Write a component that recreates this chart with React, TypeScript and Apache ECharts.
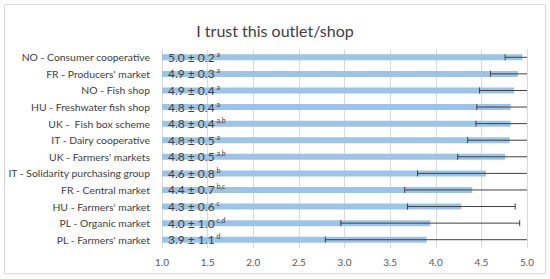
import React, { useEffect, useRef } from "react";
import * as echarts from "echarts";

const categories = [
  "NO - Consumer cooperative",
  "FR - Producers' market",
  "NO - Fish shop",
  "HU - Freshwater fish shop",
  "UK -  Fish box scheme",
  "IT - Dairy cooperative",
  "UK - Farmers' markets",
  "IT - Solidarity purchasing group",
  "FR - Central market",
  "HU - Farmers' market",
  "PL - Organic market",
  "PL - Farmers' market",
];
const means = [4.95, 4.9, 4.86, 4.82, 4.82, 4.81, 4.76, 4.55, 4.4, 4.28, 3.94, 3.9];
const sds = [0.19, 0.3, 0.38, 0.37, 0.38, 0.46, 0.52, 0.75, 0.74, 0.59, 0.98, 1.11];
const valueTexts = [
  "5.0 ± 0.2", "4.9 ± 0.3", "4.9 ± 0.4", "4.8 ± 0.4", "4.8 ± 0.4", "4.8 ± 0.5",
  "4.8 ± 0.5", "4.6 ± 0.8", "4.4 ± 0.7", "4.3 ± 0.6", "4.0 ± 1.0", "3.9 ± 1.1",
];
const letters = ["a", "a", "a", "a", "a,b", "a", "a,b", "b", "b,c", "c", "c,d", "d"];
const xTicks = [1.0, 1.5, 2.0, 2.5, 3.0, 3.5, 4.0, 4.5, 5.0];

const FONT = "Lato";

export default function App() {
  const ref = useRef<HTMLDivElement>(null);
  useEffect(() => {
    document.body.style.margin = "0";
    const chart = echarts.init(ref.current!, null, { renderer: "svg" });
    chart.setOption({
      animation: false,
      textStyle: { fontFamily: FONT },
      title: {
        text: "I trust this outlet/shop",
        left: "center",
        top: 17,
        textStyle: { fontFamily: FONT, fontSize: 16, fontWeight: "normal", color: "#404040" },
      },
      graphic: [
        {
          type: "rect",
          shape: { x: 4.5, y: 4.5, width: 541, height: 269 },
          style: { fill: "none", stroke: "#d9d9d9", lineWidth: 1 },
          silent: true,
        },
      ],
      grid: { left: 162, right: 23, top: 49, bottom: 31, containLabel: false },
      xAxis: {
        type: "value",
        min: xTicks[0],
        max: xTicks[xTicks.length - 1],
        interval: 0.5,
        axisLine: { show: false },
        axisTick: { show: false },
        axisLabel: {
          formatter: (v: number) => v.toFixed(1),
          color: "#595959",
          fontSize: 10,
          fontFamily: FONT,
          margin: 9,
        },
        splitLine: { lineStyle: { color: "#d9d9d9", width: 1 } },
      },
      yAxis: {
        type: "category",
        data: categories,
        inverse: true,
        axisLine: { show: false },
        axisTick: { show: false },
        axisLabel: { color: "#404040", fontSize: 10.4, fontFamily: FONT, margin: 12 },
      },
      series: [
        {
          type: "bar",
          data: means,
          barWidth: 6,
          itemStyle: { color: "#9dc3e6" },
          label: {
            show: true,
            position: "insideLeft",
            distance: 6,
            formatter: (p: any) => `{v|${valueTexts[p.dataIndex]}}{s|${letters[p.dataIndex]}}`,
            rich: {
              v: { fontSize: 12, color: "#404040", fontFamily: FONT, lineHeight: 14 },
              s: { fontSize: 7, color: "#404040", fontFamily: FONT, verticalAlign: "top", lineHeight: 14, padding: [0, 0, 4, 2] },
            },
          },
          z: 2,
        },
        {
          type: "custom",
          data: means.map((m, i) => [m, i, sds[i]]),
          encode: { x: 0, y: 1 },
          clip: true,
          z: 3,
          renderItem: (params: any, api: any) => {
            const m = api.value(0);
            const idx = api.value(1);
            const sd = api.value(2);
            const l = api.coord([m - sd, idx]);
            const r = api.coord([m + sd, idx]);
            const h = 3;
            const style = { stroke: "#404040", lineWidth: 1 };
            return {
              type: "group",
              children: [
                { type: "line", shape: { x1: l[0], y1: l[1], x2: r[0], y2: r[1] }, style },
                { type: "line", shape: { x1: l[0], y1: l[1] - h, x2: l[0], y2: l[1] + h }, style },
                { type: "line", shape: { x1: r[0], y1: r[1] - h, x2: r[0], y2: r[1] + h }, style },
              ],
            };
          },
        },
      ],
    });
    return () => chart.dispose();
  }, []);
  return <div ref={ref} style={{ width: 550, height: 279 }} />;
}
